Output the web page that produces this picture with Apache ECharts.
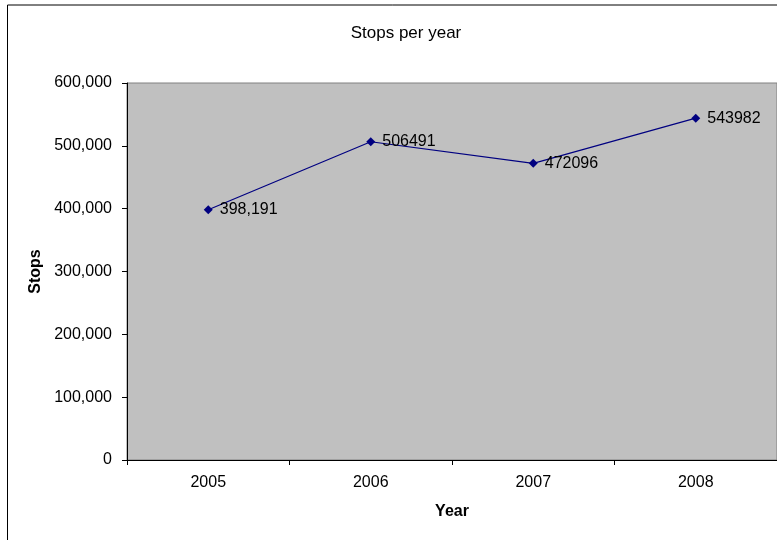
<!DOCTYPE html>
<html>
<head>
<meta charset="utf-8">
<script src="https://cdn.jsdelivr.net/npm/echarts@6/dist/echarts.min.js"></script>
<style>
  html, body { margin: 0; padding: 0; background: #fff; }
  #chart { width: 777px; height: 540px; }
</style>
</head>
<body>
<div id="chart"></div>
<script>
// Annual stop counts
const years = ['2005', '2006', '2007', '2008'];
const stops = [398191, 506491, 472096, 543982];
const pointLabels = ['398,191', '506491', '472096', '543982'];
const yTicks = [0, 100000, 200000, 300000, 400000, 500000, 600000];

const FONT = 'Liberation Sans, Arial, sans-serif';

const chart = echarts.init(document.getElementById('chart'), null, { renderer: 'canvas' });

chart.setOption({
  animation: false,
  backgroundColor: '#ffffff',
  textStyle: { fontFamily: FONT, color: '#000' },
  title: {
    text: 'Stops per year',
    left: 401,
    top: 20,
    textAlign: 'center',
    textStyle: { fontFamily: FONT, fontSize: 17, fontWeight: 'normal', color: '#000' }
  },
  graphic: [{
    type: 'rect',
    shape: { x: 7.5, y: 5, width: 800, height: 600 },
    style: { fill: 'none', stroke: '#000', lineWidth: 1 },
    silent: true
  }],
  grid: {
    left: 127,
    top: 83,
    right: -2,
    bottom: 80,
    show: true,
    backgroundColor: '#C0C0C0',
    borderColor: '#808080',
    borderWidth: 1
  },
  xAxis: {
    type: 'category',
    data: years,
    boundaryGap: true,
    name: 'Year',
    nameLocation: 'middle',
    nameGap: 44,
    nameTextStyle: { fontFamily: FONT, fontSize: 16, fontWeight: 'bold', color: '#000' },
    axisLine: { show: true, lineStyle: { color: '#000', width: 1 } },
    axisTick: { show: true, alignWithLabel: false, length: 5, lineStyle: { color: '#000' } },
    axisLabel: { fontFamily: FONT, fontSize: 16, color: '#000', margin: 15 },
    splitLine: { show: false }
  },
  yAxis: {
    type: 'value',
    min: yTicks[0],
    max: yTicks[yTicks.length - 1],
    interval: yTicks[1] - yTicks[0],
    name: 'Stops',
    nameLocation: 'middle',
    nameGap: 83,
    nameRotate: 90,
    nameTextStyle: { fontFamily: FONT, fontSize: 16, fontWeight: 'bold', color: '#000' },
    axisLine: { show: true, lineStyle: { color: '#000', width: 1 } },
    axisTick: { show: true, length: 5, lineStyle: { color: '#000' } },
    axisLabel: {
      fontFamily: FONT, fontSize: 16, color: '#000', margin: 15,
      formatter: v => v.toLocaleString('en-US')
    },
    splitLine: { show: false }
  },
  series: [{
    type: 'line',
    data: stops,
    symbol: 'diamond',
    symbolSize: 9,
    itemStyle: { color: '#000080' },
    lineStyle: { color: '#000080', width: 1.2 },
    label: {
      show: true,
      position: 'right',
      distance: 7,
      fontFamily: FONT,
      fontSize: 16,
      color: '#000',
      formatter: p => pointLabels[p.dataIndex]
    }
  }]
});
</script>
</body>
</html>
